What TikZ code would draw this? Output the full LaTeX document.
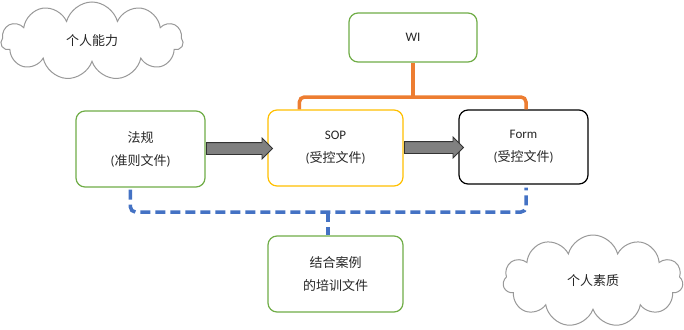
\documentclass[tikz,border=0pt]{standalone}
\usepackage{fontspec}
\setmainfont{Carlito}
\newfontfamily\cjk{Noto Sans CJK SC}
\usetikzlibrary{shapes.symbols,shapes.arrows,calc}
\definecolor{boxgreen}{HTML}{70AD47}
\definecolor{boxyellow}{HTML}{FFC000}
\definecolor{lineorange}{HTML}{ED7D31}
\definecolor{lineblue}{HTML}{4472C4}
\tikzset{
  docbox/.style={draw, line width=1.2pt, rounded corners=9pt, minimum width=129pt, minimum height=76pt, align=center, text=black!85, font=\fontsize{13}{23}\selectfont},
  cloudnode/.style={cloud, cloud puffs=11, cloud ignores aspect, draw=black!40, line width=1pt, text=black!85, font=\cjk\fontsize{13}{16}\selectfont},
  blockarrow/.style={single arrow, draw=black!80, fill=black!50, line width=0.8pt, inner sep=5.5pt, single arrow head extend=4.5pt},
  orangeline/.style={draw=lineorange, line width=3.5pt, rounded corners=5pt},
  blueline/.style={draw=lineblue, line width=3.5pt, rounded corners=5pt, dash pattern=on 10pt off 5pt}
}
\begin{document}
\begin{tikzpicture}[x=1pt,y=-1pt]
\useasboundingbox[fill=white] (0,0) rectangle (684,329);
\node[cloudnode, minimum width=182pt, minimum height=78pt] (c1) at (92,41) {个人能力};
\node[cloudnode, minimum width=180pt, minimum height=92pt] (c2) at (593,281) {个人素质};
\node[docbox, draw=boxgreen] (fa) at (140.5,149) {{\cjk 法规}\\({\cjk 准则文件})};
\node[docbox, draw=boxyellow, minimum width=135pt] (sop) at (335.5,148) {SOP\\({\cjk 受控文件})};
\node[docbox, draw=black, minimum height=74pt] (form) at (523.5,147) {Form\\({\cjk 受控文件})};
\node[docbox, draw=boxgreen, minimum width=128pt, minimum height=49pt] (wi) at (413,37.5) {WI};
\node[docbox, draw=boxgreen, minimum width=135pt] (tr) at (335.5,274) {{\cjk 结合案例}\\{\cjk 的培训文件}};
\path (fa.east) -- (sop.west) node[midway, blockarrow, minimum height=66pt] (a1) {};
\path (sop.east) -- (form.west) node[midway, blockarrow, minimum height=59pt] (a2) {};
\coordinate (oj) at (413,97);
\draw[orangeline] ($(sop.north west)+(32,0)$) |- (oj) -| ($(form.north)+(2.5,0)$);
\draw[orangeline] (wi.south) -- (oj);
\coordinate (bj) at (328,212);
\draw[blueline] ($(fa.south west)+(55,2)$) |- (bj) -| ($(form.south)+(2.5,3)$);
\draw[blueline] (bj) -- (tr.north -| bj);
\end{tikzpicture}
\end{document}
